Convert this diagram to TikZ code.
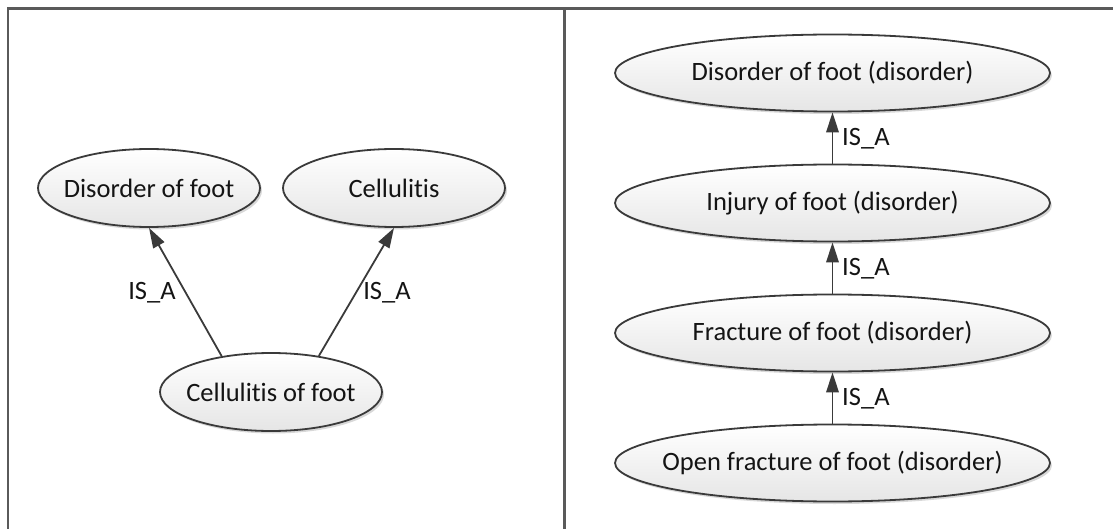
\documentclass[tikz,border=0pt]{standalone}
\usepackage{fontspec}
\setmainfont{Carlito}[Ligatures=NoCommon]
\usetikzlibrary{shapes.geometric,arrows.meta,shadows}
\definecolor{framegray}{HTML}{5A5A5A}
\definecolor{linegray}{HTML}{3A3A3A}
\newcommand{\ctext}[1]{\makebox[0pt][c]{#1}}
\tikzset{
  concept/.style={ellipse, draw=linegray, line width=1.8pt, inner sep=0pt,
    top color=white, bottom color=black!10,
    drop shadow={shadow xshift=2pt, shadow yshift=-2.5pt, fill=black!30, opacity=0.5},
    font=\fontsize{26.5}{31}\selectfont, text=black!92},
  smallc/.style={concept, minimum width=222pt, minimum height=78pt},
  widec/.style={concept, minimum width=435pt, minimum height=77pt},
  isa/.style={draw=linegray, line width=1.8pt, -{Triangle[length=20pt,width=12.5pt]}},
  lbl/.style={inner sep=0pt, font=\fontsize{26.5}{31}\selectfont, text=black!92},
  frame/.style={draw=framegray, line width=2.2pt}
}
\begin{document}
\begin{tikzpicture}[x=1pt,y=-1pt]
\useasboundingbox (0,0) rectangle (1113,529);
\coordinate (tl) at (8,8.5);
\coordinate (tr) at (1113,8.5);
\coordinate (bl) at (8,529);
\coordinate (dt) at (564.5,8.5);
\coordinate (db) at (564.5,529);
\draw[frame] (bl) -- (tl) -- (tr);
\draw[frame] (dt) -- (db);

% left panel
\node[smallc] (dof) at (149,188) {\ctext{Disorder of foot}};
\node[smallc] (cel) at (394,188) {\ctext{Cellulitis}};
\node[smallc] (cof) at (271,392) {\ctext{Cellulitis of foot}};
\draw[isa] (cof.144) -- (dof.south);
\draw[isa] (cof.37.5) -- (cel.south);
\node[lbl] (l1) at (152,293) {IS\_A};
\node[lbl] (l2) at (387,293) {IS\_A};

% right panel
\node[widec] (r1) at (832.5,73) {\ctext{Disorder of foot (disorder)}};
\node[widec] (r2) at (832.5,203) {\ctext{Injury of foot (disorder)}};
\node[widec] (r3) at (832.5,333) {\ctext{Fracture of foot (disorder)}};
\node[widec] (r4) at (832.5,463) {\ctext{Open fracture of foot (disorder)}};
\draw[isa] (r2.north) -- (r1.south);
\draw[isa] (r3.north) -- (r2.south);
\draw[isa] (r4.north) -- (r3.south);
\node[lbl, anchor=west] (m1) at (842,139) {IS\_A};
\node[lbl, anchor=west] (m2) at (842,269) {IS\_A};
\node[lbl, anchor=west] (m3) at (842,399) {IS\_A};
\end{tikzpicture}
\end{document}
